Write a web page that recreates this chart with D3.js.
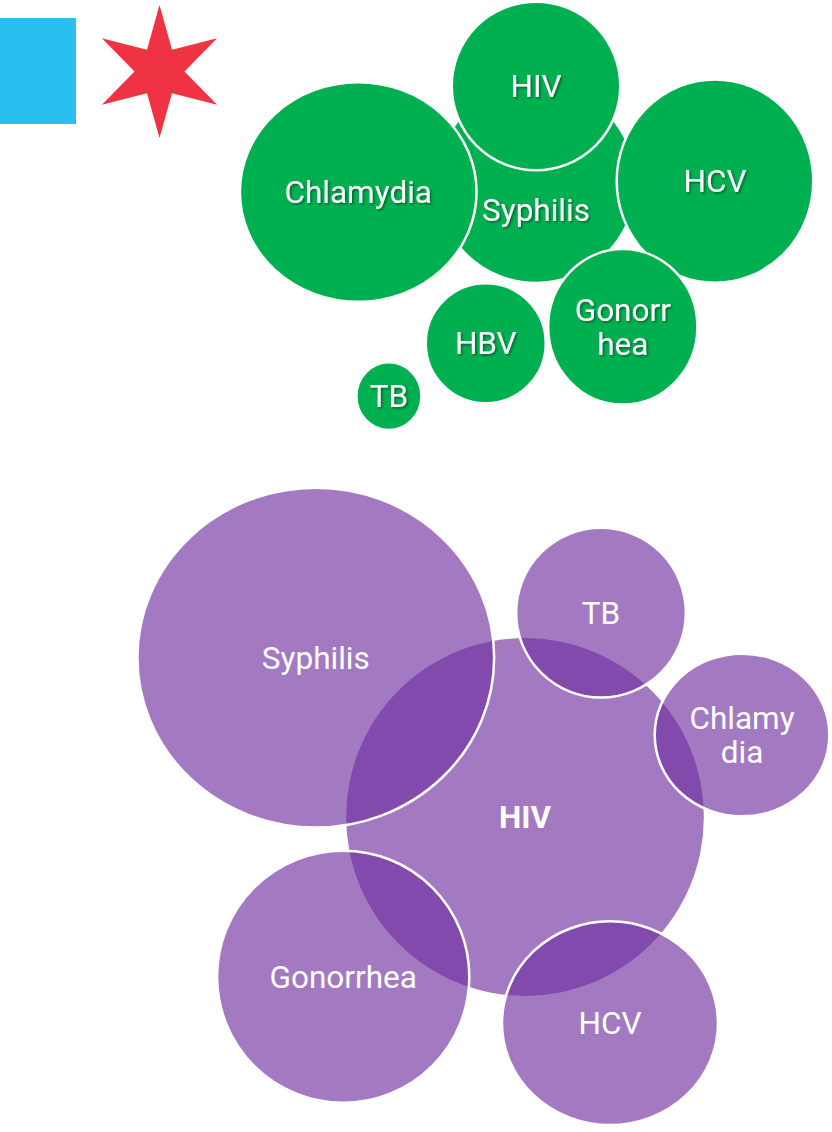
<!DOCTYPE html>
<html>
<head>
<meta charset="utf-8">
<script src="https://cdn.jsdelivr.net/npm/d3@7"></script>
<style>
  body { margin: 0; background: #fff; }
  svg { display: block; font-family: Roboto, "Noto Sans", sans-serif; }
</style>
</head>
<body>
<div id="chart"></div>
<script>
// bubble values (area ~ value), hub first
const greenNames = ["Syphilis", "HIV", "Chlamydia", "HCV", "Gonorrhea", "HBV", "TB"];
const greenValues = [100, 71, 130, 100, 58, 36, 11];
const greenLabels = [["Syphilis"], ["HIV"], ["Chlamydia"], ["HCV"], ["Gonorr", "hea"], ["HBV"], ["TB"]];

const purpleNames = ["HIV", "Syphilis", "TB", "Chlamydia", "Gonorrhea", "HCV"];
const purpleValues = [320, 303, 72, 71, 159, 110];
const purpleLabels = [["HIV"], ["Syphilis"], ["TB"], ["Chlamy", "dia"], ["Gonorrhea"], ["HCV"]];

// layout: angle (deg, clockwise from top) and distance of each satellite from its hub,
// plus the slight width/height stretch of each shape
const greenAngles = [0, 0, 267.1, 89.4, 148.9, 197.4, 214.6];
const greenDist = [0, 97, 178, 179, 168, 168, 259];
const greenAspect = [1, 1, 1.077, 0.966, 0.96, 1, 0.96];
const purpleAngles = [0, 307.3, 20.4, 69.3, 228.7, 157.6];
const purpleDist = [0, 263, 218, 232, 242, 223];
const purpleAspect = [1, 1.05, 1, 1.074, 1, 1.06];

const width = 832, height = 1132;

const svg = d3.select("#chart").append("svg")
    .attr("width", width)
    .attr("height", height);

const rScale = d3.scaleSqrt().domain([0, 100]).range([0, 100]);

// soft shadow used on the green labels
const defs = svg.append("defs");
defs.append("filter")
    .attr("id", "shadow")
    .attr("x", "-20%").attr("y", "-20%")
    .attr("width", "140%").attr("height", "140%")
    .append("feDropShadow")
    .attr("dx", 1.5).attr("dy", 1.5)
    .attr("stdDeviation", 0.8)
    .attr("flood-color", "#000")
    .attr("flood-opacity", 0.45);

// Chicago flag pieces
svg.append("rect")
    .attr("x", 0).attr("y", 18)
    .attr("width", 76).attr("height", 106)
    .attr("fill", "#29bfef");

const starPts = d3.range(12).map(i => d3.pointRadial(i * Math.PI / 6, i % 2 === 0 ? 66.5 : 25));
svg.append("path")
    .attr("transform", "translate(159.5,71.5)")
    .attr("d", d3.line()(starPts) + "Z")
    .attr("fill", "#ef3342");

function bubbleGroup(names, values, labels, angles, dists, aspect, hub, opts) {
    const nodes = names.map((n, i) => {
        const p = d3.pointRadial(angles[i] * Math.PI / 180, dists[i]);
        const r = rScale(values[i]);
        return {
            name: n, value: values[i], label: labels[i], x: p[0], y: p[1], hub: i === 0,
            rx: r * Math.sqrt(aspect[i]), ry: r / Math.sqrt(aspect[i])
        };
    });

    const g = svg.append("g").attr("transform", `translate(${hub[0]},${hub[1]})`);

    g.selectAll("ellipse")
        .data(nodes)
        .join("ellipse")
        .attr("cx", d => d.x)
        .attr("cy", d => d.y)
        .attr("rx", d => d.rx)
        .attr("ry", d => d.ry)
        .attr("fill", opts.fill)
        .attr("fill-opacity", opts.opacity)
        .attr("stroke", d => (d.hub && !opts.hubStroke) ? "none" : "#fff")
        .attr("stroke-width", 2.5);

    const text = g.selectAll("text")
        .data(nodes)
        .join("text")
        .attr("x", d => d.x)
        .attr("y", d => d.y + (d.hub ? opts.hubLabelDy : 0))
        .attr("text-anchor", "middle")
        .attr("fill", "#fff")
        .attr("font-size", opts.fontSize)
        .attr("font-weight", d => (d.hub && opts.hubBold) ? "bold" : "normal")
        .attr("filter", opts.shadow ? "url(#shadow)" : null);

    text.each(function(d) {
        const n = d.label.length;
        d3.select(this).selectAll("tspan")
            .data(d.label)
            .join("tspan")
            .attr("x", d.x)
            .attr("dy", (l, i) => i === 0 ? `${0.35 - (n - 1) * 0.53}em` : "1.07em")
            .text(l => l);
    });
}

bubbleGroup(greenNames, greenValues, greenLabels, greenAngles, greenDist, greenAspect, [536, 183],
    { fill: "#00b050", opacity: 1, hubStroke: true, hubLabelDy: 27, fontSize: 31.5, hubBold: false, shadow: true });

bubbleGroup(purpleNames, purpleValues, purpleLabels, purpleAngles, purpleDist, purpleAspect, [525, 817],
    { fill: "#7030a0", opacity: 0.645, hubStroke: false, hubLabelDy: 0, fontSize: 31.5, hubBold: true, shadow: false });
</script>
</body>
</html>
